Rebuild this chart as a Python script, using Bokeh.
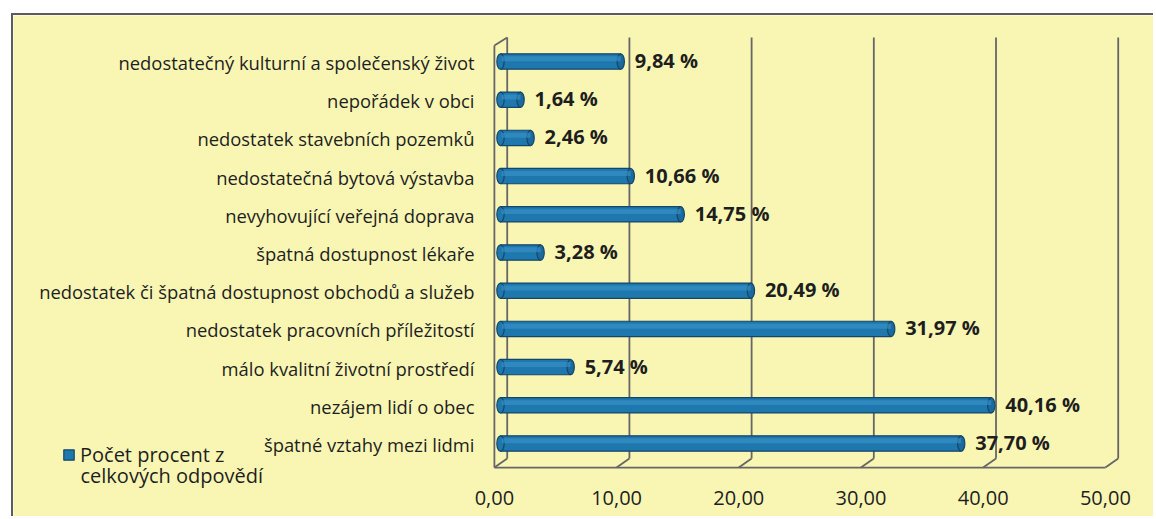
from bokeh.plotting import figure
from bokeh.models import Range1d, ColumnDataSource, Legend, LegendItem, Spacer, Label
from bokeh.layouts import column, row
from bokeh.embed import file_html
from bokeh.resources import INLINE
from bokeh.core.properties import value

# ---- data ----
categories = [
    "špatné vztahy mezi lidmi",
    "nezájem lidí o obec",
    "málo kvalitní životní prostředí",
    "nedostatek pracovních příležitostí",
    "nedostatek či špatná dostupnost obchodů a služeb",
    "špatná dostupnost lékaře",
    "nevyhovující veřejná doprava",
    "nedostatečná bytová výstavba",
    "nedostatek stavebních pozemků",
    "nepořádek v obci",
    "nedostatečný kulturní a společenský život",
]
percent = [37.70, 40.16, 5.74, 31.97, 20.49, 3.28, 14.75, 10.66, 2.46, 1.64, 9.84]
x_ticks = [0, 10, 20, 30, 40, 50]
x_tick_labels = ["0,00", "10,00", "20,00", "30,00", "40,00", "50,00"]
series_name_lines = ["Počet procent z", "celkových odpovědí"]

# ---- style ----
BG = "#f9f6b4"
BAR = "#1f78ad"
BAR_EDGE = "#14466a"
GRID = "#666666"
TXT = "#1e1e1e"
FONT = "Open Sans"
BACK = 0.55     # depth offset of back wall (data units)
FRONT = -0.5    # front edge offset
TOP = 10.63
FLOOR_BACK = -0.39
FLOOR_FRONT = -0.63
LEFT_TOP_FRONT = 10.42

W, H = 1142, 503
idx = list(range(len(categories)))
labels = [f"{v:.2f}".replace(".", ",") + " %" for v in percent]
src = ColumnDataSource(dict(i=idx, v=percent, lab=labels, cat=categories,
                            hi=[k + 0.07 for k in idx]))

p = figure(width=W, height=H, output_backend="svg", toolbar_location=None,
           x_range=Range1d(-39.853, 53.601), y_range=Range1d(-1.963, 11.204),
           x_axis_location=None, y_axis_location=None,
           min_border=0)
p.background_fill_color = BG
p.border_fill_color = BG
p.outline_line_color = None
p.xgrid.visible = False
p.ygrid.visible = False

# back wall gridlines + floor diagonals
bx = [t + BACK for t in x_ticks]
fx = [t + FRONT for t in x_ticks]
n = len(x_ticks)
p.segment(x0=bx, y0=[TOP] * n, x1=bx, y1=[FLOOR_BACK] * n,
          line_color=GRID, line_width=1.8)
p.segment(x0=bx, y0=[FLOOR_BACK] * n, x1=fx, y1=[FLOOR_FRONT] * n,
          line_color=GRID, line_width=1.8)
p.segment(x0=[fx[0]], y0=[FLOOR_FRONT], x1=[fx[-1]], y1=[FLOOR_FRONT],
          line_color=GRID, line_width=1.8)
p.segment(x0=[fx[0], fx[0]], y0=[FLOOR_FRONT, LEFT_TOP_FRONT],
          x1=[fx[0], bx[0]], y1=[LEFT_TOP_FRONT, TOP],
          line_color=GRID, line_width=1.8)

# bars (cylinder look)
bars = p.hbar(y="i", left=0, right="v", height=0.40, source=src,
              fill_color=BAR, line_color=BAR_EDGE, line_width=1.2)
p.ellipse(x="v", y="i", width=0.6, height=0.40, source=src,
          fill_color="#1a6a9e", line_color=BAR_EDGE, line_width=1.2)
p.ellipse(x=0, y="i", width=0.6, height=0.40, source=src,
          fill_color=BAR, line_color=BAR_EDGE, line_width=1.2)
p.hbar(y="hi", left=0.1, right="v", height=0.13, source=src,
       fill_color="#3a93c9", fill_alpha=0.6, line_color=None)

# value labels
p.text(x="v", y="i", text="lab", source=src, x_offset=14, y_offset=-1,
       text_font=value(FONT), text_font_style="bold", text_font_size="20px",
       text_color=TXT, text_baseline="middle", text_align="left")

# category labels (left of the chart wall)
p.text(x=0, y="i", text="cat", source=src, x_offset=-26, y_offset=1,
       text_font=value(FONT), text_font_size="18.4px",
       text_color=TXT, text_baseline="middle", text_align="right")

# value axis labels along the front floor edge
p.text(x=fx, y=[FLOOR_FRONT] * n, text=x_tick_labels, y_offset=30,
       text_font=value(FONT), text_font_size="20px",
       text_color=TXT, text_baseline="middle", text_align="center")

# legend (series name wrapped onto two lines, swatch beside the first)
leg = Legend(items=[LegendItem(label=series_name_lines[0], renderers=[bars])],
             location=(49, 50), background_fill_alpha=0, border_line_alpha=0,
             padding=0, margin=0, glyph_width=13, glyph_height=13, label_standoff=5,
             label_text_font=FONT, label_text_font_size="20px", label_text_color=TXT)
p.add_layout(leg)
p.add_layout(Label(x=67, y=43, x_units="screen", y_units="screen",
                   text=series_name_lines[1], text_font=FONT, text_font_size="20px",
                   text_color=TXT, text_baseline="middle", text_align="left"))

p.styles = {"border-left": "2px solid #5c5c5c", "border-top": "2px solid #5c5c5c"}

layout = column(Spacer(height=13), row(Spacer(width=11), p))
open("out.html", "w").write(file_html(layout, INLINE))
